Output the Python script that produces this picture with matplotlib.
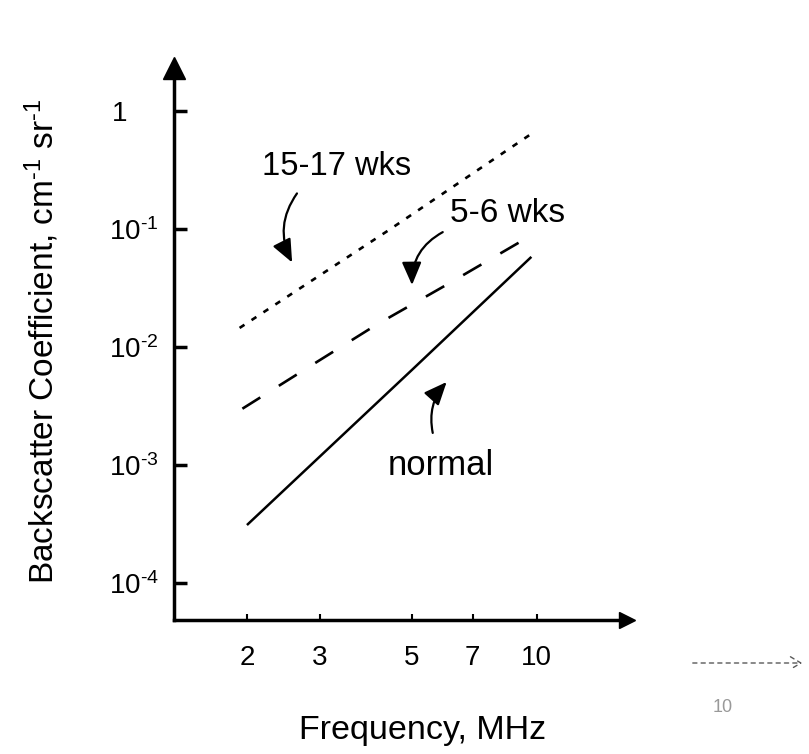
import matplotlib
matplotlib.use("Agg")
import matplotlib.pyplot as plt

plt.rcParams["font.family"] = ["Liberation Sans", "DejaVu Sans"]
plt.rcParams["mathtext.fontset"] = "custom"
plt.rcParams["mathtext.rm"] = "Liberation Sans"
plt.rcParams["mathtext.it"] = "Liberation Sans:italic"
plt.rcParams["mathtext.bf"] = "Liberation Sans:bold"

# curves (frequency in MHz, backscatter in 1/(cm sr))
freq_normal = [2.0, 5.0, 9.7]
bsc_normal = [3.1e-4, 6.4e-3, 0.058]

freq_56 = [1.95, 2.9, 4.1, 6.0, 9.3]
bsc_56 = [3.0e-3, 7.2e-3, 0.0154, 0.033, 0.081]

freq_1517 = [1.92, 4.4, 9.7]
bsc_1517 = [0.0145, 0.098, 0.64]

xticks = [2, 3, 5, 7, 10]
xtick_labels = ["2", "3", "5", "7", "10"]
yticks = [1e-4, 1e-3, 1e-2, 1e-1, 1]
ytick_labels = ["$\\mathregular{10^{\u20104}}$", "$\\mathregular{10^{\u20103}}$",
                "$\\mathregular{10^{\u20102}}$", "$\\mathregular{10^{\u20101}}$", "1    "]

fig = plt.figure(figsize=(8.09, 7.54), dpi=100)
ax = fig.add_axes([0.2151, 0.1777, 0.560, 0.7321])
ax.set_xscale("log")
ax.set_yscale("log")
ax.set_xlim(1.334, 16.5)
ax.set_ylim(4.86e-5, 2.31)

ax.plot(freq_normal, bsc_normal, color="k", lw=1.8, solid_capstyle="butt")
ax.plot(freq_56, bsc_56, color="k", lw=1.9, ls=(0, (8, 8.3)))
ax.plot(freq_1517, bsc_1517, color="k", lw=1.9, ls=(0, (2.2, 3.2)))

# axes: only left and bottom, with arrow heads
for s in ["top", "right"]:
    ax.spines[s].set_visible(False)
ax.spines["left"].set_linewidth(2.5)
ax.spines["bottom"].set_linewidth(2.5)
ax.plot(0, 1, marker="^", color="k", markersize=16, transform=ax.transAxes, clip_on=False)
ax.plot(1, 0, marker=">", color="k", markersize=12, transform=ax.transAxes, clip_on=False)

ax.set_xticks(xticks)
ax.set_xticklabels(xtick_labels)
ax.set_yticks(yticks)
ax.set_yticklabels(ytick_labels)
ax.minorticks_off()
ax.tick_params(axis="y", direction="in", length=9, width=2.5, labelsize=20, pad=11)
ax.tick_params(axis="x", direction="in", length=4, width=1.5, labelsize=20, pad=18)

# labels for the curves with curved arrows
arrow = dict(arrowstyle="-|>,head_length=0.7,head_width=0.3", color="k", lw=1.6,
             mutation_scale=20, shrinkA=0, shrinkB=0)
ax.text(2.18, 0.335, "15-17 wks", fontsize=23.5, va="center", ha="left")
ax.annotate("", xy=(2.57, 0.052), xytext=(2.64, 0.20),
            arrowprops=dict(arrow, connectionstyle="arc3,rad=0.3"))
ax.text(6.17, 0.134, "5-6 wks", fontsize=24, va="center", ha="left")
ax.annotate("", xy=(5.0, 0.0335), xytext=(5.93, 0.094),
            arrowprops=dict(arrow, connectionstyle="arc3,rad=0.3"))
ax.text(4.37, 1.0e-3, "normal", fontsize=25, va="center", ha="left")
ax.annotate("", xy=(6.06, 5.05e-3), xytext=(5.61, 1.87e-3),
            arrowprops=dict(arrow, connectionstyle="arc3,rad=-0.25"))

fig.text(42 / 809, 1 - 341 / 754,
         "Backscatter Coefficient, cm$\\mathregular{^{\u20101}}$ sr$\\mathregular{^{\u20101}}$",
         rotation=90, fontsize=24, ha="center", va="center")
fig.text(423 / 809, 1 - 731 / 754, "Frequency, MHz", fontsize=24.5, ha="center", va="center")

# faint stray marks from the scanned page
fig.add_artist(matplotlib.patches.FancyArrowPatch(
    (690 / 809, 1 - 663 / 754), (805 / 809, 1 - 663 / 754), transform=fig.transFigure,
    arrowstyle="->,head_length=0.5,head_width=0.3", mutation_scale=15,
    color="0.35", lw=1.0, ls=(0, (3, 3))))
fig.text(723 / 809, 1 - 707 / 754, "10", fontsize=13, color="0.6", ha="center", va="center")

fig.savefig("out.png", dpi=100)
